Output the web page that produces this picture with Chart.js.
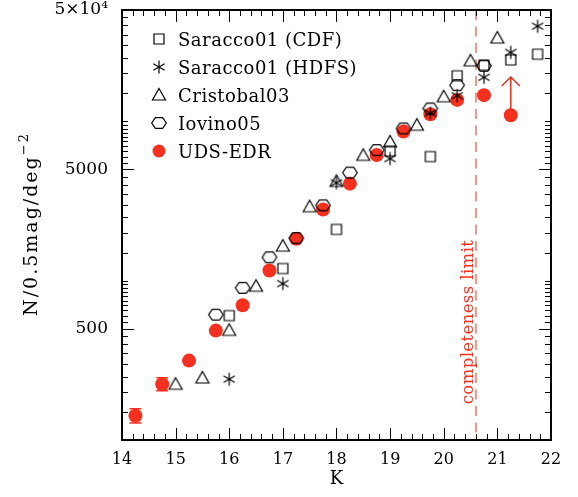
<!DOCTYPE html>
<html lang="en">
<head>
    <meta charset="UTF-8">
    <title>K-band galaxy counts</title>
    <script src="https://cdn.jsdelivr.net/npm/chart.js@4.4.1/dist/chart.umd.min.js"></script>
    <style>
        html, body { margin: 0; padding: 0; background: #fff; }
    </style>
</head>
<body>
    <canvas id="countsChart" width="578" height="497"></canvas>

    <script>
        // number counts (K mag, N per 0.5 mag per deg^2)
        const cdfK = [16.0, 17.0, 18.0, 19.0, 19.75, 20.25, 20.75, 21.25, 21.75];
        const cdfN = [604, 1192, 2098, 6516, 6010, 19320, 22550, 24300, 26400];

        const hdfsK = [16.0, 17.0, 18.0, 19.0, 19.75, 20.25, 20.75, 21.25, 21.75];
        const hdfsN = [241, 959, 4120, 5840, 11250, 14500, 18900, 27100, 39550];

        const cristobalK = [15.0, 15.5, 16.0, 16.5, 17.0, 17.5, 18.0, 18.5, 19.0, 19.5, 20.0, 20.5, 21.0];
        const cristobalN = [224, 245, 488, 923, 1649, 2912, 4200, 6120, 7430, 9460, 14270, 23980, 33330];

        const iovinoK = [15.75, 16.25, 16.75, 17.25, 17.75, 18.25, 18.75, 19.25, 19.75, 20.25, 20.75];
        const iovinoN = [612, 902, 1403, 1850, 2970, 4770, 6600, 9020, 12050, 16870, 22320];

        const udsK = [14.25, 14.75, 15.25, 15.75, 16.25, 16.75, 17.25, 17.75, 18.25, 18.75, 19.25, 19.75, 20.25, 20.75, 21.25];
        const udsN = [142, 224, 315, 486, 701, 1158, 1833, 2800, 4064, 6150, 8630, 11090, 13640, 14600, 10930];
        const udsErrLo = [128, 204, null, null, null, null, null, null, null, null, null, null, null, null, null];
        const udsErrHi = [157, 246, null, null, null, null, null, null, null, null, null, null, null, null, null];

        // lower limit at the faintest bin
        const limitK = [21.25];
        const limitFrom = [10930];
        const limitTo = [18970];

        const completenessK = 20.6;

        const xTickValues = [14, 15, 16, 17, 18, 19, 20, 21, 22];
        const yTickValues = [500, 5000, 50000];
        const yTickLabels = ['500', '5000', '5×10⁴'];

        const RED = '#f6301f';
        const FONT = '"DejaVu Serif", "Liberation Serif", serif';

        function toPoints(xs, ys) {
            return xs.map((k, i) => ({ x: k, y: ys[i] }));
        }

        // open black symbols drawn once into small canvases
        function makeSymbol(kind) {
            const c = document.createElement('canvas');
            c.width = 18;
            c.height = 18;
            const g = c.getContext('2d');
            g.strokeStyle = '#000';
            g.lineWidth = 1.2;
            g.beginPath();
            if (kind === 'square') {
                g.rect(4, 4, 10, 10);
            } else if (kind === 'triangle') {
                g.moveTo(9, 2.5);
                g.lineTo(15.5, 14);
                g.lineTo(2.5, 14);
                g.closePath();
            } else if (kind === 'hexagon') {
                for (let j = 0; j < 6; j++) {
                    const ang = j * Math.PI / 3;
                    const px = 9 + 7.3 * Math.cos(ang);
                    const py = 9 + 6.3 * Math.sin(ang);
                    if (j === 0) g.moveTo(px, py); else g.lineTo(px, py);
                }
                g.closePath();
            } else if (kind === 'star') {
                for (const ang of [90, 30, 150]) {
                    const r = ang * Math.PI / 180;
                    g.moveTo(9 + 6.5 * Math.cos(r), 9 - 6.5 * Math.sin(r));
                    g.lineTo(9 - 6.5 * Math.cos(r), 9 + 6.5 * Math.sin(r));
                }
            }
            g.stroke();
            return c;
        }

        const symSquare = makeSymbol('square');
        const symStar = makeSymbol('star');
        const symTriangle = makeSymbol('triangle');
        const symHexagon = makeSymbol('hexagon');

        const legendItems = [
            { label: 'Saracco01 (CDF)', sym: symSquare },
            { label: 'Saracco01 (HDFS)', sym: symStar },
            { label: 'Cristobal03', sym: symTriangle },
            { label: 'Iovino05', sym: symHexagon },
            { label: 'UDS-EDR', sym: null }
        ];

        function yMinorTicks() {
            const out = [];
            for (const base of [50, 500, 5000]) {
                for (let m = 11; m <= 20; m++) out.push(base * m / 10);
                for (let m = 3; m <= 9; m++) out.push(base * m);
            }
            return out;
        }

        const extras = {
            id: 'extras',
            beforeDatasetsDraw(chart) {
                const { ctx, chartArea: a, scales: { x, y } } = chart;

                // completeness limit
                const cx = x.getPixelForValue(completenessK);
                ctx.save();
                ctx.strokeStyle = '#f59387';
                ctx.lineWidth = 2;
                ctx.setLineDash([10, 6.5]);
                ctx.beginPath();
                ctx.moveTo(cx, a.top);
                ctx.lineTo(cx, a.bottom);
                ctx.stroke();
                ctx.restore();

                ctx.save();
                ctx.translate(cx - 3, 322);
                ctx.rotate(-Math.PI / 2);
                ctx.fillStyle = RED;
                ctx.font = '16.5px ' + FONT;
                ctx.letterSpacing = '0.4px';
                ctx.textAlign = 'center';
                ctx.textBaseline = 'alphabetic';
                ctx.fillText('completeness limit', 0, 0);
                ctx.restore();

                // error bars on the bright bins
                ctx.save();
                ctx.strokeStyle = RED;
                ctx.lineWidth = 1.5;
                udsK.forEach((k, i) => {
                    if (udsErrLo[i] == null) return;
                    const px = x.getPixelForValue(k);
                    const lo = y.getPixelForValue(udsErrLo[i]);
                    const hi = y.getPixelForValue(udsErrHi[i]);
                    ctx.beginPath();
                    ctx.moveTo(px, lo); ctx.lineTo(px, hi);
                    ctx.moveTo(px - 6, lo); ctx.lineTo(px + 6, lo);
                    ctx.moveTo(px - 6, hi); ctx.lineTo(px + 6, hi);
                    ctx.stroke();
                });

                // lower-limit arrow
                ctx.strokeStyle = '#e0321f';
                ctx.lineWidth = 1.5;
                limitK.forEach((k, i) => {
                    const px = x.getPixelForValue(k);
                    const p0 = y.getPixelForValue(limitFrom[i]);
                    const p1 = y.getPixelForValue(limitTo[i]);
                    ctx.beginPath();
                    ctx.moveTo(px, p0); ctx.lineTo(px, p1);
                    ctx.moveTo(px - 9, p1 + 9); ctx.lineTo(px, p1); ctx.lineTo(px + 9, p1 + 9);
                    ctx.stroke();
                });
                ctx.restore();
            },
            afterDraw(chart) {
                const { ctx, chartArea: a, scales: { x, y } } = chart;
                ctx.save();

                // inward ticks on all four sides
                ctx.strokeStyle = '#000';
                ctx.lineWidth = 1;
                ctx.beginPath();
                for (let v = 14; v <= 22.001; v += 0.2) {
                    const px = Math.round(x.getPixelForValue(v)) + 0.5;
                    const major = Math.abs(v - Math.round(v)) < 0.01;
                    const len = major ? 12 : 6;
                    ctx.moveTo(px, a.bottom); ctx.lineTo(px, a.bottom - len);
                    ctx.moveTo(px, a.top); ctx.lineTo(px, a.top + len);
                }
                const tickSet = yMinorTicks().map(v => [v, 6]).concat(yTickValues.map(v => [v, 12]));
                tickSet.forEach(([v, len]) => {
                    if (v < y.min || v > y.max) return;
                    const py = Math.round(y.getPixelForValue(v)) + 0.5;
                    ctx.moveTo(a.left, py); ctx.lineTo(a.left + len, py);
                    ctx.moveTo(a.right, py); ctx.lineTo(a.right - len, py);
                });
                ctx.stroke();

                // frame
                ctx.lineWidth = 2;
                ctx.strokeRect(a.left, a.top, a.right - a.left, a.bottom - a.top);

                // axis titles
                ctx.fillStyle = '#000';
                ctx.textBaseline = 'middle';
                ctx.textAlign = 'center';
                ctx.font = '18px ' + FONT;
                ctx.fillText('K', (a.left + a.right) / 2, 479);

                ctx.save();
                ctx.translate(31, 224);
                ctx.rotate(-Math.PI / 2);
                ctx.font = '19px ' + FONT;
                ctx.letterSpacing = '2px';
                const main = 'N/0.5mag/deg';
                const wMain = ctx.measureText(main).width;
                ctx.font = '13px ' + FONT;
                const wSup = ctx.measureText('−2').width;
                const x0 = -(wMain + wSup) / 2;
                ctx.textAlign = 'left';
                ctx.textBaseline = 'alphabetic';
                ctx.font = '19px ' + FONT;
                ctx.fillText(main, x0, 6);
                ctx.font = '13px ' + FONT;
                ctx.fillText('−2', x0 + wMain, -3);
                ctx.restore();

                // legend
                ctx.font = '18px ' + FONT;
                ctx.letterSpacing = '0.5px';
                ctx.textAlign = 'left';
                ctx.textBaseline = 'middle';
                legendItems.forEach((it, i) => {
                    const ly = 41 + i * 28;
                    if (it.sym) {
                        ctx.drawImage(it.sym, 159 - 9, ly - 2 - 9);
                    } else {
                        ctx.fillStyle = RED;
                        ctx.beginPath();
                        ctx.arc(159, ly - 2, 6.5, 0, Math.PI * 2);
                        ctx.fill();
                    }
                    ctx.fillStyle = '#000';
                    ctx.fillText(it.label, 178, ly);
                });
                ctx.restore();
            }
        };

        const ctx = document.getElementById('countsChart').getContext('2d');
        new Chart(ctx, {
            type: 'scatter',
            data: {
                datasets: [
                    { label: 'Saracco01 (CDF)', data: toPoints(cdfK, cdfN), pointStyle: symSquare, pointRadius: 7 },
                    { label: 'Saracco01 (HDFS)', data: toPoints(hdfsK, hdfsN), pointStyle: symStar, pointRadius: 7 },
                    { label: 'Cristobal03', data: toPoints(cristobalK, cristobalN), pointStyle: symTriangle, pointRadius: 7 },
                    { label: 'Iovino05', data: toPoints(iovinoK, iovinoN), pointStyle: symHexagon, pointRadius: 7 },
                    {
                        label: 'UDS-EDR', data: toPoints(udsK, udsN), pointStyle: 'circle', pointRadius: 7,
                        backgroundColor: RED, borderWidth: 0
                    }
                ]
            },
            options: {
                responsive: false,
                animation: false,
                events: [],
                devicePixelRatio: 1,
                layout: { autoPadding: false, padding: { top: 10, right: 27, left: 0, bottom: 0 } },
                plugins: {
                    legend: { display: false },
                    tooltip: { enabled: false }
                },
                scales: {
                    x: {
                        type: 'linear',
                        min: 14,
                        max: 22,
                        afterFit: s => { s.height = 57; s.paddingLeft = 0; s.paddingRight = 0; },
                        afterBuildTicks: s => { s.ticks = xTickValues.map(v => ({ value: v })); },
                        grid: { display: false, drawTicks: false },
                        border: { display: false },
                        ticks: { padding: 10, color: '#000', font: { family: FONT, size: 16 } }
                    },
                    y: {
                        type: 'logarithmic',
                        min: 100,
                        max: 50000,
                        // label padding would otherwise push the plot area down
                        afterFit: s => { s.width = 122; s.paddingTop = 0; s.paddingBottom = 0; },
                        afterBuildTicks: s => { s.ticks = yTickValues.map(v => ({ value: v })); },
                        grid: { display: false, drawTicks: false },
                        border: { display: false },
                        ticks: {
                            padding: 14,
                            color: '#000',
                            font: { family: FONT, size: 17 },
                            callback: (v, i) => yTickLabels[i]
                        }
                    }
                }
            },
            plugins: [extras]
        });
    </script>
</body>
</html>
